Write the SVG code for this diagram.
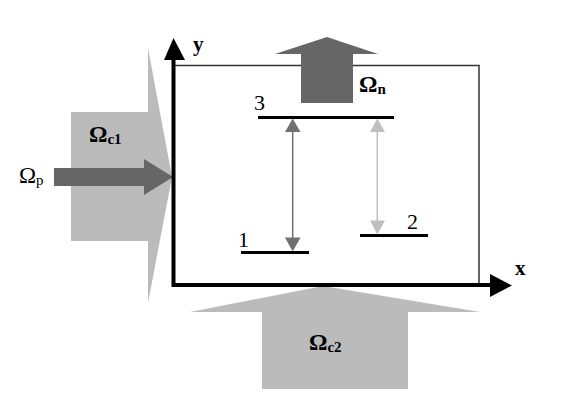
<svg xmlns="http://www.w3.org/2000/svg" width="566" height="415" viewBox="0 0 566 415">
<style>
.lbl{font-family:"Liberation Serif","Times New Roman",serif;fill:#000}
.b{font-weight:bold}
.lev{stroke:#000;stroke-width:3;fill:none}
.light{fill:#bbbbbb}
.dark{fill:#666666}
</style>
<rect width="566" height="415" fill="#fff"/>
<g id="beam-c1">
<polygon class="light" points="71,112 148,112 148,48 172,177 148,303 148,241 71,241"/>
<text class="lbl b" x="89" y="142" font-size="23">Ω<tspan font-size="15" dy="2">c1</tspan></text>
</g>
<g id="beam-p">
<polygon class="dark" points="54,168 144,168 144,159 173,177 144,195 144,186 54,186"/>
<text class="lbl" x="19" y="183" font-size="23">Ω<tspan font-size="15" dy="2">p</tspan></text>
</g>
<g id="beam-c2">
<polygon class="light" points="262,389 262,312 190,312 323,286 480,312 408,312 408,389"/>
<text class="lbl b" x="309" y="350" font-size="23">Ω<tspan font-size="15" dy="2">c2</tspan></text>
</g>
<g id="box">
<polyline points="175,65.5 479,65.5 479,285" fill="none" stroke="#333" stroke-width="1.5"/>
</g>
<g id="beam-n">
<polygon class="dark" points="301,103 301,54 275,54 327,37 378,54 353,54 353,103"/>
<text class="lbl b" x="359" y="92" font-size="23">Ω<tspan font-size="15" dy="2">n</tspan></text>
</g>
<g id="axes">
<polyline points="173.5,60 173.5,285 490,285" fill="none" stroke="#000" stroke-width="4"/>
<polygon points="164,60 173.5,38 185,60" fill="#000"/>
<polygon points="490,274 512,285.5 490,297" fill="#000"/>
<text class="lbl b" x="193" y="51" font-size="21">y</text>
<text class="lbl b" x="515" y="275" font-size="21">x</text>
</g>
<g id="level-3">
<line class="lev" x1="258" y1="117.5" x2="394" y2="117.5"/>
<text class="lbl" x="254" y="110" font-size="22">3</text>
</g>
<g id="level-1">
<line class="lev" x1="241" y1="252.5" x2="309" y2="252.5"/>
<text class="lbl" x="238" y="247" font-size="22">1</text>
</g>
<g id="level-2">
<line class="lev" x1="360" y1="235.5" x2="428" y2="235.5"/>
<text class="lbl" x="407" y="229" font-size="22">2</text>
</g>
<g id="connectors">
<line x1="292.7" y1="130" x2="292.7" y2="239" stroke="#707070" stroke-width="1.5"/>
<polygon points="285,132 292.7,118.5 300.5,132" fill="#707070"/>
<polygon points="285,237.5 292.7,251.5 300.5,237.5" fill="#707070"/>
<line x1="377.3" y1="130" x2="377.3" y2="222" stroke="#bfbfbf" stroke-width="1.5"/>
<polygon points="370,132 377.3,118.5 385,132" fill="#bfbfbf"/>
<polygon points="370,220.5 377.3,234.5 385,220.5" fill="#bfbfbf"/>
</g>
</svg>
